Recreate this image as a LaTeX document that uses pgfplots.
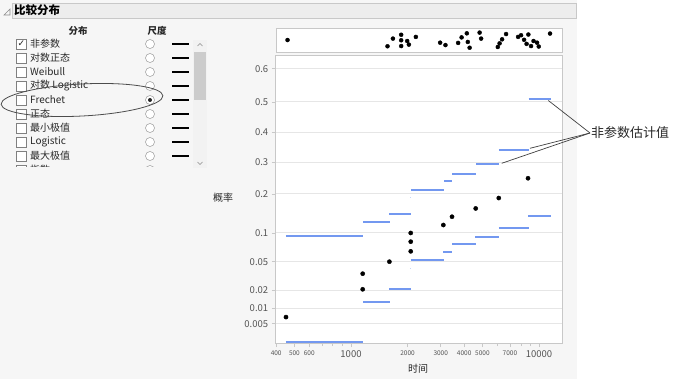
\documentclass[border=0pt]{standalone}
\usepackage{pgfplots}
\pgfplotsset{compat=1.18}
\usepackage{fontspec}
\setmainfont{Noto Sans CJK SC}
\newfontfamily\dejavu{DejaVu Sans}
\definecolor{bl}{RGB}{115,152,240}
\definecolor{panel}{RGB}{246,246,246}
\definecolor{framec}{RGB}{200,200,200}
\definecolor{gridc}{RGB}{230,230,230}
\definecolor{tickc}{RGB}{85,85,85}
\definecolor{txt}{RGB}{40,40,40}
\newcommand{\seg}[3]{\addplot[bl, line width=1.8pt] coordinates {(#1,#3) (#2,#3)};}
\begin{document}
\begin{tikzpicture}[x=1pt,y=1pt]
\begin{scope}[yscale=-1]
\path[use as bounding box] (0,0) rectangle (700,387);
\fill[white] (0,0) rectangle (700,387);
\fill[panel] (0,0) rectangle (577,379);
% title bar
\fill[black!7] (12,3) rectangle (576,18);
\draw[framec, line width=0.6pt] (12,3) rectangle (576,18);
\draw[black!45, line width=0.6pt] (4,15)--(10,15)--(10,9)--cycle;
\node[anchor=west, inner sep=0, font=\fontsize{11.5}{12}\selectfont\bfseries, text=black] at (14,10.5) {比较分布};
% headers
\node[font=\fontsize{9.5}{10}\selectfont\bfseries, text=txt] at (78,31) {分布};
\node[font=\fontsize{9.5}{10}\selectfont\bfseries, text=txt] at (157,31) {尺度};
% scrollbar
\fill[black!5] (193,40) rectangle (207,168);
\fill[black!20] (194,52) rectangle (206,100);
\draw[black!45, line width=0.5pt] (197.5,46)--(200,43.5)--(202.5,46);
\draw[black!45, line width=0.5pt] (197.5,162)--(200,164.5)--(202.5,162);
% list
\begin{scope}
\clip (0,37) rectangle (192,167);
\foreach \lab [count=\i] in {非参数,对数正态,Weibull,对数 Logistic,Frechet,正态,最小极值,Logistic,最大极值,指数} {
  \pgfmathsetmacro\yy{44+14*(\i-1)}
  \draw[black!50, fill=white, line width=0.5pt] (16,\yy-5) rectangle (26.5,\yy+5.5);
  \node[anchor=west, inner sep=0, font=\fontsize{10}{10}\selectfont, text=txt] at (30,\yy) {\lab};
  \draw[black!40, fill=white, line width=0.5pt] (150,\yy) circle (4.5);
  \draw[black, line width=1.6pt] (172,\yy) -- (189,\yy);
}
\end{scope}
\node[font=\fontsize{9}{9}\selectfont, inner sep=0, text=black!85] at (21.5,43.5) {\dejavu ✓};
\fill[black!85] (150,100) circle (2);
% ellipse
\draw[black!70, line width=0.8pt, rotate around={-3:(82,100)}] (82,100) ellipse (81 and 16);
% axis labels
\node[font=\fontsize{10}{10}\selectfont, text=txt] at (223,198) {概率};
\node[font=\fontsize{10}{10}\selectfont, text=txt] at (418,369) {时间};
\end{scope}

% jitter strip
\begin{axis}[at={(276pt,-53pt)}, anchor=south west, scale only axis,
  width=286.7pt, height=24pt, xmode=log, xmin=397.7, xmax=13366,
  ymin=0, ymax=1, xtick=\empty, ytick=\empty,
  axis line style={framec, line width=1pt},
  axis background/.style={fill=white}]
\addplot[only marks, mark=*, mark size=2pt, black] coordinates {
(458,0.54) (1560,0.28) (1667,0.6) (1845,0.76) (1845,0.53) (1845,0.29)
(1986,0.5) (2027,0.35) (2209,0.67) (2975,0.43) (3175,0.33) (3708,0.42)
(3870,0.65) (4125,0.82) (4176,0.46) (4269,0.22) (4826,0.85) (4916,0.6)
(6031,0.25) (6164,0.4) (6357,0.57) (6675,0.79) (7734,0.67) (8023,0.74)
(8323,0.55) (8583,0.38) (8773,0.77) (9067,0.29) (9348,0.5) (9758,0.43)
(9963,0.27) (11443,0.81)};
\end{axis}

% main plot
\begin{axis}[at={(275.7pt,-343pt)}, anchor=south west, scale only axis,
  width=287pt, height=287pt,
  xmode=log, xmin=397.7, xmax=13366,
  ymin=0.00182, ymax=0.6346,
  y coord trafo/.code={\pgfmathparse{-ln(-ln(#1))}},
  y coord inv trafo/.code={\pgfmathparse{exp(-exp(-#1))}},
  ytick={0.005,0.01,0.02,0.05,0.1,0.2,0.3,0.4,0.5,0.6},
  yticklabels={0.005,0.01,0.02,0.05,0.1,0.2,0.3,0.4,0.5,0.6},
  ymajorgrids, grid style={gridc, line width=1pt},
  xtick={1000,10000}, xticklabels={1000,10000},
  extra x ticks={400,500,600,2000,3000,4000,5000,7000},
  extra x tick labels={400,500,600,2000,3000,4000,5000,7000},
  extra x tick style={grid=none, major tick length=4pt,
     tick label style={font=\fontsize{6.5}{7}\selectfont}},
  minor xtick={700,800,900,6000,8000,9000},
  xtick pos=lower, ytick pos=left,
  tick align=outside, major tick length=4pt, minor tick length=3pt,
  tick style={framec, line width=0.6pt},
  axis line style={framec, line width=1pt},
  tick label style={tickc, font=\fontsize{9.5}{10}\selectfont},
  /pgf/number format/assume math mode=true,
  axis background/.style={fill=white}]
% lower band
\seg{451}{1154}{0.0019}
\seg{1163}{1612}{0.0133}
\seg{1600}{2094}{0.0214}
\seg{2078}{3126}{0.052}
\seg{3098}{3445}{0.064}
\seg{3445}{4623}{0.0778}
\seg{4590}{6109}{0.0924}
\seg{6109}{8810}{0.1117}
\seg{8740}{11550}{0.140}
% upper band
\seg{451}{1154}{0.093}
\seg{1163}{1612}{0.125}
\seg{1600}{2094}{0.1437}
\seg{2094}{3126}{0.2117}
\seg{3126}{3445}{0.2386}
\seg{3445}{4623}{0.2608}
\seg{4623}{6109}{0.2952}
\seg{6109}{8810}{0.340}
\seg{8810}{11550}{0.5106}
\addplot[bl!40, line width=1pt] coordinates {(2070,0.0415) (2085,0.0415)};
\addplot[bl!40, line width=1pt] coordinates {(2070,0.19) (2085,0.19)};
% estimates
\addplot[only marks, mark=*, mark size=2.1pt, black] coordinates {
(451,0.0069) (1154,0.0353) (1154,0.0211) (1600,0.05) (2078,0.1) (2078,0.0826)
(2078,0.0656) (3098,0.1176) (3445,0.1375) (4605,0.159) (6109,0.188) (8740,0.248)};
\end{axis}

\begin{scope}[yscale=-1]
\draw[black!75, line width=0.7pt] (590,133) -- (548.3,100.5);
\draw[black!75, line width=0.7pt] (590,133) -- (530,148.3);
\draw[black!75, line width=0.7pt] (590,133) -- (501.7,163.3);
\node[anchor=west, inner sep=0, font=\fontsize{13}{13}\selectfont, text=txt] at (591,132.5) {非参数估计值};
\end{scope}
\end{tikzpicture}
\end{document}
